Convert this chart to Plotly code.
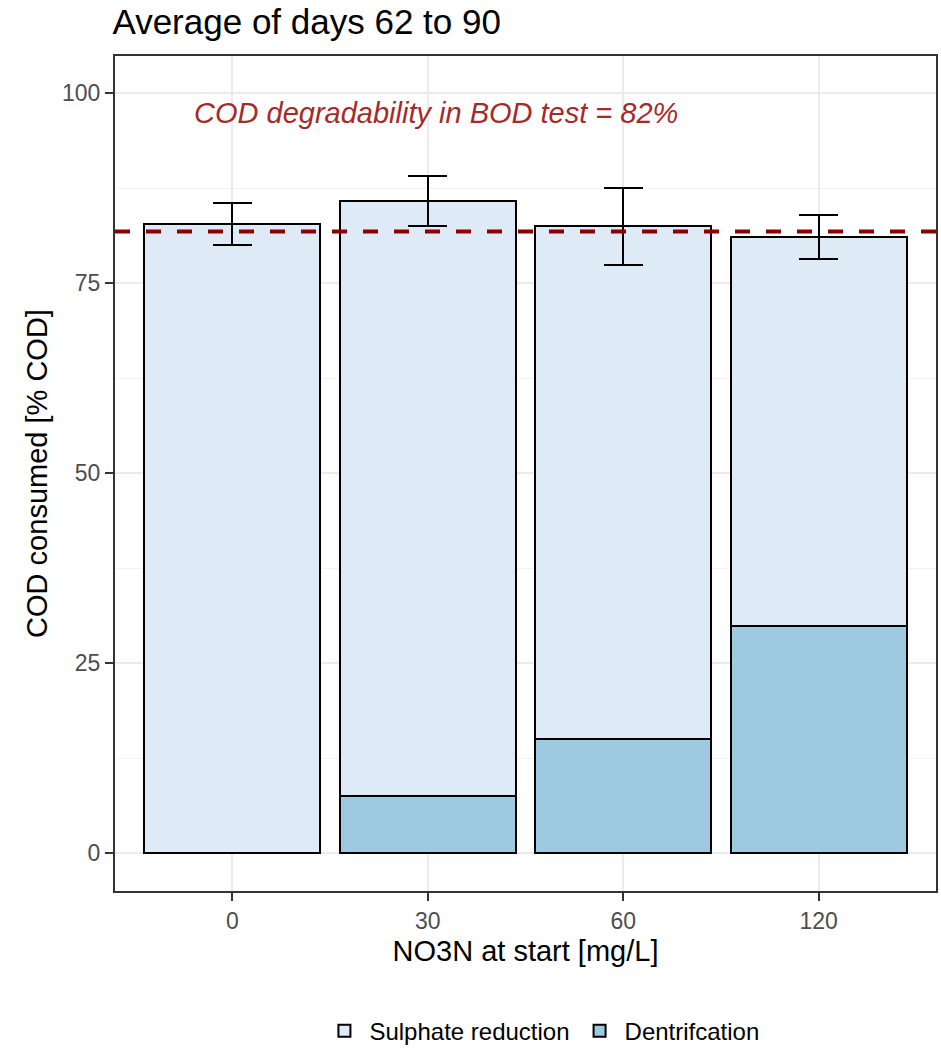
import plotly.graph_objects as go

# ---- data ----
categories = ["0", "30", "60", "120"]
dentrification = [0.0, 7.5, 15.1, 29.9]
sulphate_reduction = [82.8, 78.3, 67.4, 51.2]
error_sd = [2.8, 3.3, 5.1, 2.9]
bod_degradability = 81.8
annotation_text = "COD degradability in BOD test = 82%"
y_ticks = [0, 25, 50, 75, 100]

fig = go.Figure()
fig.add_trace(go.Bar(
    x=categories, y=dentrification, name="Dentrifcation",
    marker=dict(color="#9ECAE1", line=dict(color="black", width=2)),
    legendrank=2,
))
fig.add_trace(go.Bar(
    x=categories, y=sulphate_reduction, name="Sulphate reduction",
    marker=dict(color="#DEEBF7", line=dict(color="black", width=2)),
    error_y=dict(type="data", array=error_sd, visible=True,
                 color="black", thickness=2, width=19.5),
    legendrank=1,
))

fig.add_hline(y=bod_degradability, line=dict(color="#8B0000", width=4, dash="15px,16px"))

fig.add_annotation(
    x=1.04, y=97.4, xref="x", yref="y", text="<i>" + annotation_text + "</i>", showarrow=False,
    font=dict(family="Liberation Sans, Arial", size=29, color="#A52A2A"),
    xanchor="center", yanchor="middle",
)

fig.update_layout(
    width=941, height=1049,
    margin=dict(l=115, r=5, t=56, b=158, autoexpand=False),
    barmode="stack", bargap=0.1,
    plot_bgcolor="white", paper_bgcolor="white",
    font=dict(family="Liberation Sans, Arial", color="black"),
    title=dict(text="Average of days 62 to 90", x=0.1195, xanchor="left", xref="container",
               y=1 - 22 / 1049, yanchor="middle", yref="container",
               font=dict(size=35, color="black")),
    showlegend=True,
    legend=dict(orientation="h", traceorder="normal", x=0.52, xanchor="center",
                y=-0.141, yanchor="top",
                font=dict(size=24, color="black"), itemwidth=40),
)
fig.update_xaxes(
    type="category", range=[-0.6, 3.6],
    showline=True, mirror=True, linecolor="#333333", linewidth=2,
    ticks="outside", ticklen=8, tickwidth=2, tickcolor="#333333",
    tickfont=dict(size=23, color="#4D4D4D"),
    showgrid=True, gridcolor="#EBEBEB", gridwidth=2,
    title=dict(text="NO3N at start [mg/L]", font=dict(size=29, color="black"), standoff=8),
)
fig.update_yaxes(
    range=[-4.95, 104.9], tickvals=y_ticks,
    showline=True, mirror=True, linecolor="#333333", linewidth=2,
    ticks="outside", ticklen=8, tickwidth=2, tickcolor="#333333",
    tickfont=dict(size=23, color="#4D4D4D"),
    showgrid=True, gridcolor="#EBEBEB", gridwidth=2, zeroline=False,
    minor=dict(dtick=12.5, tick0=0, showgrid=True, gridcolor="#F2F2F2", gridwidth=1, ticks=""),
    title=dict(text="COD consumed [% COD]", font=dict(size=29, color="black"), standoff=6),
)

fig.write_html("out.html")
